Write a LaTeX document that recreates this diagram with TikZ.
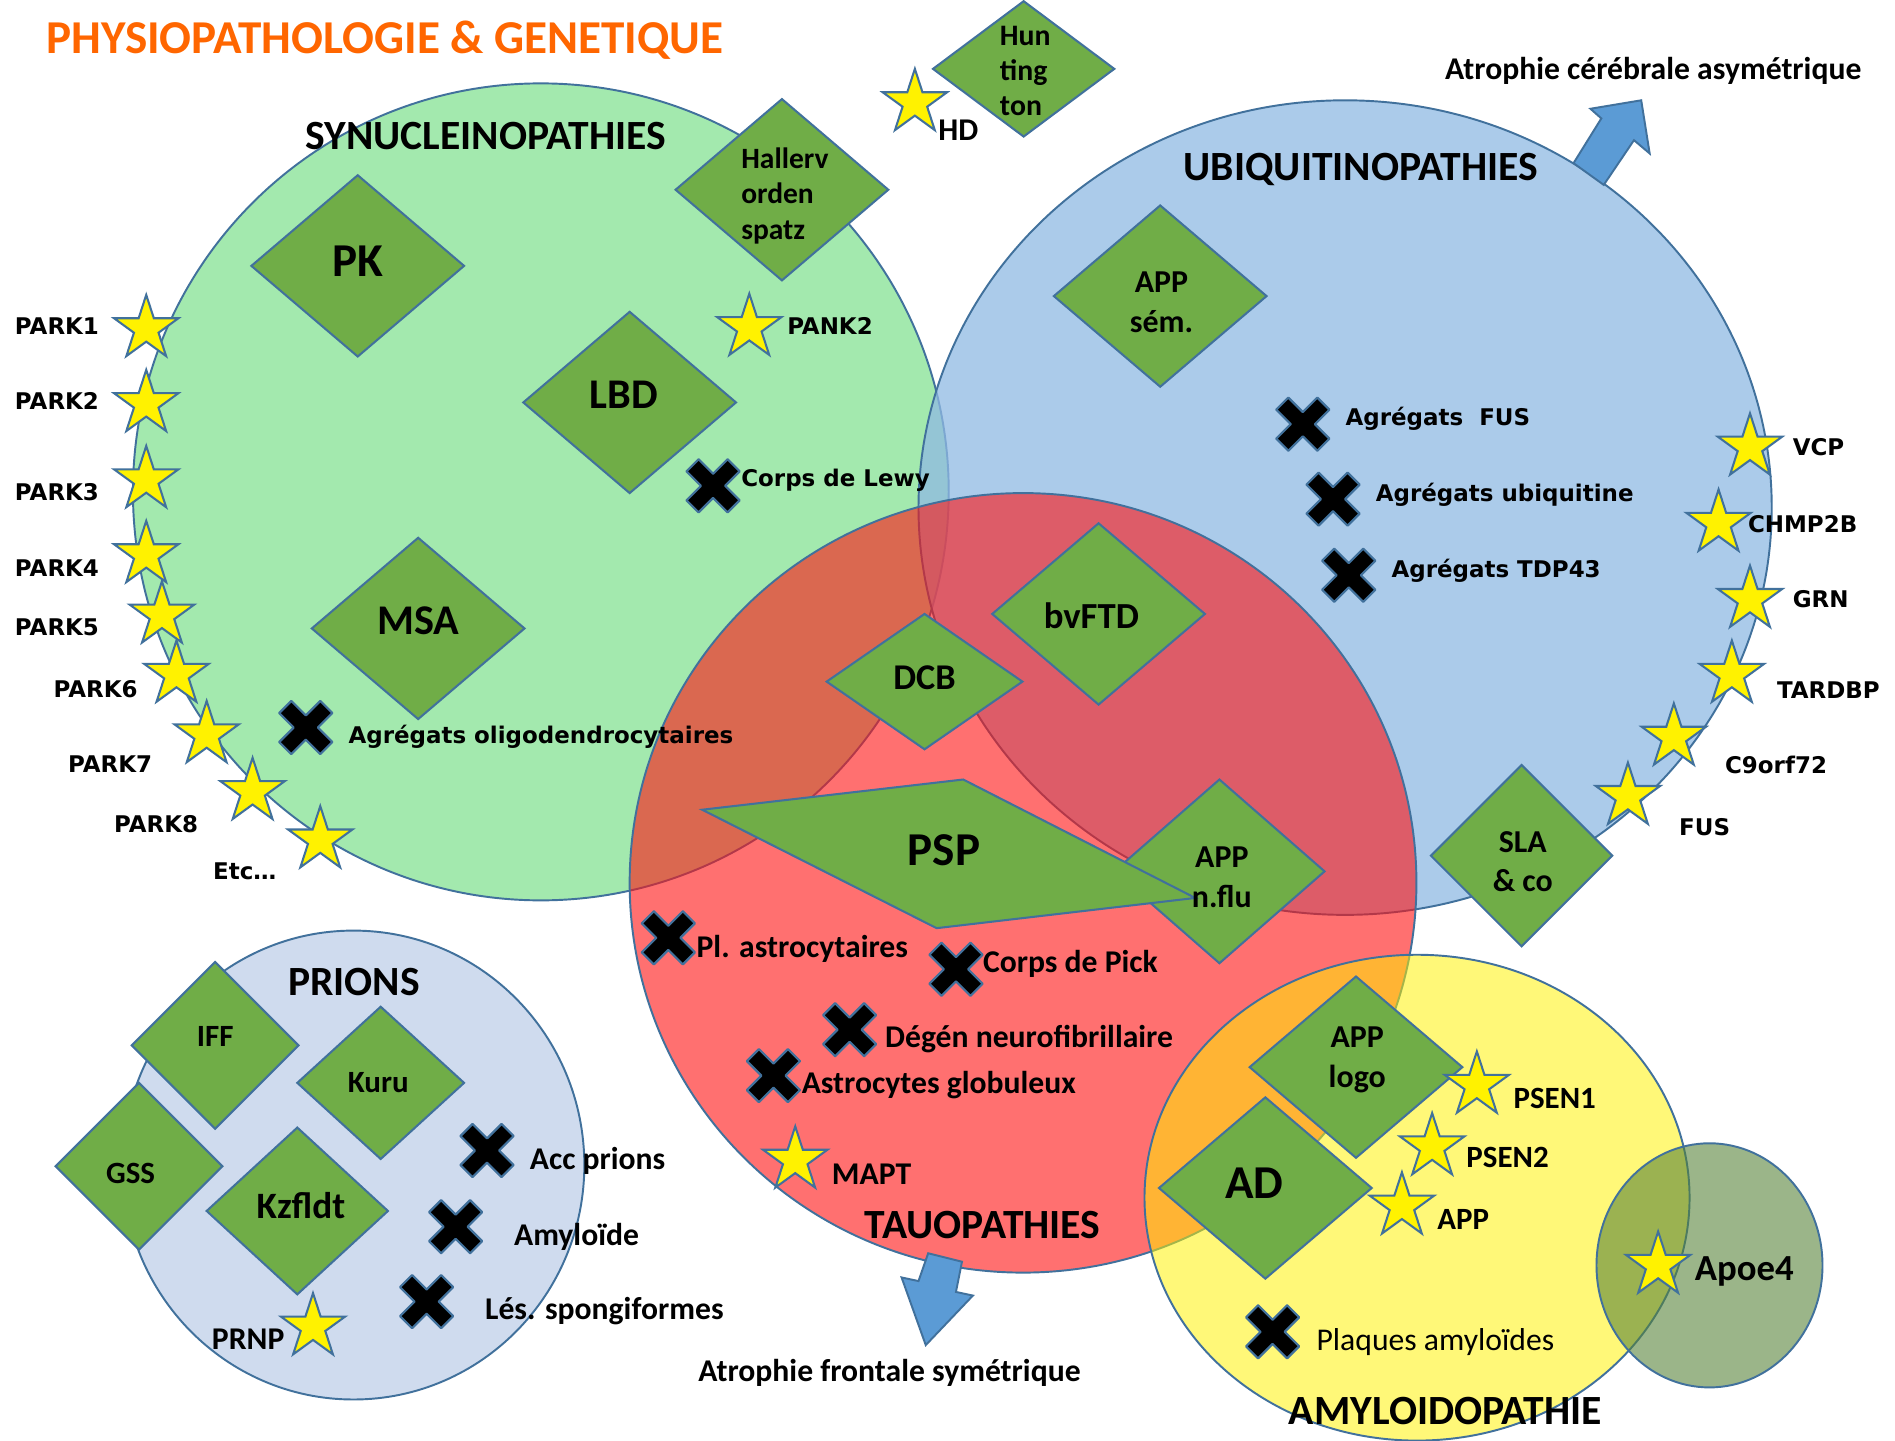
\documentclass[tikz,border=0pt]{standalone}
\usepackage{fontspec}
\setmainfont{Carlito}
\newfontfamily\dvs{DejaVu Sans}
\usetikzlibrary{shapes.geometric}

\definecolor{bord}{RGB}{65,113,156}
\definecolor{dgreen}{RGB}{112,173,71}
\definecolor{lgreen}{RGB}{163,233,174}
\definecolor{lblue}{RGB}{144,186,227}
\definecolor{tred}{RGB}{255,18,18}
\definecolor{prion}{RGB}{207,219,238}
\definecolor{apoe}{RGB}{86,130,55}
\definecolor{arrowblue}{RGB}{91,155,213}
\definecolor{titleorange}{RGB}{255,102,0}

\newcommand\dmdshape[4]{\draw[dmd] (#1,#2) ++(-#3,0) -- ++(#3,-#4) -- ++(#3,#4) -- ++(-#3,#4) -- cycle;}
\newcommand\xcross[2]{\draw[xst, shift={(#1,#2)}] (-22,-12) -- (-12,-22) -- (0,-10) -- (12,-22) -- (22,-12) -- (10,0) -- (22,12) -- (12,22) -- (0,10) -- (-12,22) -- (-22,12) -- (-10,0) -- cycle;}

\begin{document}
\begin{tikzpicture}[x=0.5pt,y=-0.5pt,
  circ/.style={draw=bord, line width=0.8pt},
  dmd/.style={draw=bord, fill=dgreen, line width=0.85pt, line join=miter},
  starst/.style={star, star points=5, star point ratio=2.618, minimum size=28pt, inner sep=0pt, draw=bord, fill=yellow, line width=0.85pt},
  xst/.style={draw=bord, fill=black, line width=0.9pt, line join=round},
  barrow/.style={draw=bord, fill=arrowblue, line width=0.8pt},
  cb/.style={inner sep=0pt, font=\fontsize{#1}{#1}\selectfont\bfseries, text height=0.644*#1 pt, text depth=0pt},
  lab/.style={cb=13.1, anchor=west},
  plab/.style={cb=12.8, anchor=west},
  vlab/.style={inner sep=0pt, anchor=west, font=\dvs\fontsize{9.5}{11}\selectfont\bfseries, text height=6.93pt, text depth=0pt},
  head/.style={cb=17.2},
  big/.style={cb=19.5},
  mid/.style={cb=15.2},
  sml/.style={cb=12.8},
  two/.style={inner sep=0pt, align=center, font=\fontsize{13.2}{16.5}\selectfont\bfseries},
]
\useasboundingbox (0,0) rectangle (1568,1192);
\fill[white] (0,0) rectangle (1568,1192);

% ---- big ellipses
\draw[circ, fill=lgreen] (447.5,407) ellipse [x radius=337.5, y radius=338];
\draw[circ, fill=lblue, fill opacity=0.75] (1113,420) ellipse [x radius=353, y radius=337];
\draw[circ, fill=tred, fill opacity=0.6] (846.5,730.5) ellipse [x radius=325.5, y radius=322.5];
\draw[circ, fill=yellow, fill opacity=0.53] (1172.5,991) ellipse [x radius=225.5, y radius=201];
\draw[circ, fill=apoe, fill opacity=0.59] (1414.5,1047) ellipse [x radius=93.5, y radius=101];
\draw[circ, fill=prion] (292.5,964) ellipse [x radius=191, y radius=194];

% ---- block arrows
\draw[barrow] (1302,135) -- (1325,98) -- (1316,90) -- (1358,83) -- (1365,127) -- (1352,116) -- (1327,153) -- cycle;
\draw[barrow] (768,1037) -- (796,1044) -- (791,1069) -- (805,1072) -- (766,1113) -- (746,1057) -- (760,1060) -- cycle;

% ---- diamonds
\dmdshape{296}{220}{88}{75}
\dmdshape{647}{157}{88}{75}
\dmdshape{847}{57}{75}{56}
\dmdshape{521}{333}{88}{75}
\dmdshape{346}{520}{88}{75}
\dmdshape{960}{245}{88}{75}
\dmdshape{909}{508}{88}{75}
\dmdshape{765}{564}{81}{56}
\dmdshape{1009}{721}{87}{76}
\draw[dmd] (581,670) -- (797,645) -- (989,743) -- (775,768) -- cycle;
\dmdshape{1259}{708}{75}{75}
\dmdshape{1122}{883}{88}{75}
\dmdshape{1047}{983}{88}{75}
\dmdshape{178}{865}{69}{69}
\dmdshape{315}{896}{69}{63}
\dmdshape{115}{965}{69}{69}
\dmdshape{246}{1002}{75}{69}

% ---- stars
\node[starst] (sP1) at (121,272) {};
\node[starst] (sP2) at (121,334) {};
\node[starst] (sP3) at (121,397) {};
\node[starst] (sP4) at (121,459) {};
\node[starst] (sP5) at (134,509) {};
\node[starst] (sP6) at (146,558) {};
\node[starst] (sP7) at (171,608) {};
\node[starst] (sP8) at (209,655) {};
\node[starst] (sEtc) at (265,695) {};
\node[starst] (sPANK) at (620,271) {};
\node[starst] (sHD) at (757,85) {};
\node[starst] (sVCP) at (1448,370) {};
\node[starst] (sCHMP) at (1422,433) {};
\node[starst] (sGRN) at (1448,496) {};
\node[starst] (sTAR) at (1433,558) {};
\node[starst] (sC9) at (1385,610) {};
\node[starst] (sFUS) at (1347,659) {};
\node[starst] (sMAPT) at (658,960) {};
\node[starst] (sPRNP) at (259,1098) {};
\node[starst] (sPS1) at (1222,898) {};
\node[starst] (sPS2) at (1185,949) {};
\node[starst] (sAPP) at (1160,998) {};
\node[starst] (sApoe) at (1372,1047) {};

% ---- crosses
\xcross{590}{402}
\xcross{253}{602}
\xcross{1078}{351}
\xcross{1103}{413}
\xcross{1116}{476}
\xcross{553}{776}
\xcross{791}{802}
\xcross{703}{852}
\xcross{640}{890}
\xcross{403}{952}
\xcross{377}{1015}
\xcross{353}{1077}
\xcross{1053}{1102}

% ---- titles
\node[cb=19.5, anchor=west, text=titleorange] (title) at (38,32) {PHYSIOPATHOLOGIE \& GENETIQUE};
\node[head] (hSyn) at (402,113) {SYNUCLEINOPATHIES};
\node[head] (hUbi) at (1126,138) {UBIQUITINOPATHIES};
\node[head] (hTau) at (813,1014) {TAUOPATHIES};
\node[head] (hAmy) at (1196,1168) {AMYLOIDOPATHIE};
\node[head] (hPri) at (293,813) {PRIONS};
\node[cb=13.1] (atr1) at (1368,57) {Atrophie cérébrale asymétrique};
\node[cb=13.1] (atr2) at (736,1135) {Atrophie frontale symétrique};

% ---- diamond texts
\node[big] (tPK) at (296,216) {PK};
\node[anchor=west, inner sep=0pt, align=left, font=\fontsize{12.2}{14.75}\selectfont\bfseries] (tHal) at (613,162) {Hallerv\\orden\\spatz};
\node[anchor=west, inner sep=0pt, align=left, font=\fontsize{12.3}{14.5}\selectfont\bfseries] (tHun) at (827,59) {Hun\\ting\\ton};
\node[cb=17.5] (tLBD) at (516,327) {LBD};
\node[cb=17.5] (tMSA) at (346,514) {MSA};
\node[two] (tAPPs) at (961,250) {APP\\sém.};
\node[mid] (tbv) at (903,510) {bvFTD};
\node[cb=15] (tDCB) at (765,561) {DCB};
\node[big] (tPSP) at (781,704) {PSP};
\node[two] (tAPPn) at (1011,726) {APP\\n.flu};
\node[two] (tSLA) at (1260,713) {SLA\\\&\ co};
\node[two] (tAPPl) at (1123,877) {APP\\logo};
\node[big] (tAD) at (1038,979) {AD};
\node[sml] (tIFF) at (178,858) {IFF};
\node[sml] (tKuru) at (313,896) {Kuru};
\node[sml] (tGSS) at (108,971) {GSS};
\node[cb=15.4] (tKz) at (249,998) {Kzfldt};

% ---- star labels
\node[vlab] (lP1) at (12,270) {PARK1};
\node[vlab] (lP2) at (12,332) {PARK2};
\node[vlab] (lP3) at (12,407) {PARK3};
\node[vlab] (lP4) at (12,470) {PARK4};
\node[vlab] (lP5) at (12,519) {PARK5};
\node[vlab] (lP6) at (44,570) {PARK6};
\node[vlab] (lP7) at (56,632) {PARK7};
\node[vlab] (lP8) at (94,682) {PARK8};
\node[vlab] (lEtc) at (176,721) {Etc…};
\node[vlab] (lPANK) at (651,270) {PANK2};
\node[lab] (lHD) at (776,108) {HD};
\node[vlab] (lVCP) at (1483,370) {VCP};
\node[vlab] (lCHMP) at (1446,434) {CHMP2B};
\node[vlab] (lGRN) at (1483,496) {GRN};
\node[vlab] (lTAR) at (1470,571) {TARDBP};
\node[vlab] (lC9) at (1427,633) {C9orf72};
\node[vlab] (lFUS) at (1389,684) {FUS};
\node[lab] (lMAPT) at (688,972) {MAPT};
\node[lab] (lPRNP) at (175,1108) {PRNP};
\node[plab] (lPS1) at (1252,909) {PSEN1};
\node[plab] (lPS2) at (1213,958) {PSEN2};
\node[plab] (lAPP) at (1189,1009) {APP};
\node[cb=15.2, anchor=west] (lApoe) at (1402,1050) {Apoe4};

% ---- cross labels
\node[vlab] (cLewy) at (613,396) {Corps de Lewy};
\node[vlab] (cOligo) at (288,608) {Agrégats oligodendrocytaires};
\node[vlab] (cFUS) at (1113,345) {Agrégats\ \ FUS};
\node[vlab] (cUbi) at (1138,408) {Agrégats ubiquitine};
\node[vlab] (cTDP) at (1151,471) {Agrégats TDP43};
\node[lab] (cPl) at (576,784) {Pl. astrocytaires};
\node[lab] (cPick) at (813,796) {Corps de Pick};
\node[lab] (cDeg) at (732,858) {Dégén neurofibrillaire};
\node[lab] (cAst) at (663,896) {Astrocytes globuleux};
\node[lab] (cAcc) at (438,959) {Acc prions};
\node[lab] (cAmy) at (425,1022) {Amyloïde};
\node[lab] (cLes) at (401,1083) {Lés. spongiformes};
\node[lab, font=\fontsize{13.1}{13.1}\selectfont\mdseries] (cPlaq) at (1089,1109) {Plaques amyloïdes};
\end{tikzpicture}
\end{document}
